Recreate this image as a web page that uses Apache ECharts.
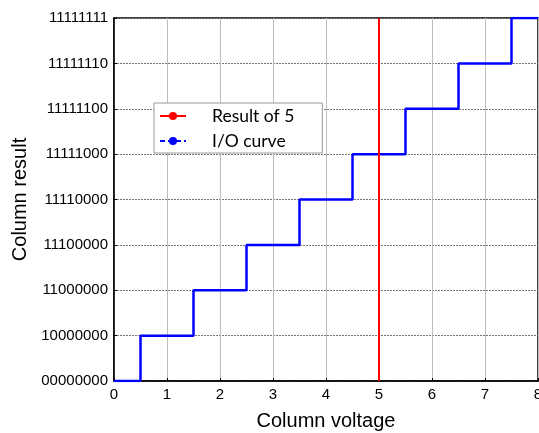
<!DOCTYPE html>
<html><head><meta charset="utf-8">
<script src="https://cdn.jsdelivr.net/npm/echarts@6/dist/echarts.min.js"></script>
<style>html,body{margin:0;padding:0;background:#fff;overflow:hidden}#c{width:539px;height:433px}</style>
</head><body><div id="c"></div>
<script>
const xTicks = [0,1,2,3,4,5,6,7,8];
const yLabels = ['00000000','10000000','11000000','11100000','11110000','11111000','11111100','11111110','11111111'];
const ioX = [0,0.5,1.5,2.5,3.5,4.5,5.5,6.5,7.5,8];
const ioLevel = [0,1,2,3,4,5,6,7,8,8];
const resultX = [5,5];
const resultLevel = [0,8];

const chart = echarts.init(document.getElementById('c'));
chart.setOption({
  animation:false,
  grid:{left:114, top:18, right:1, bottom:52, outerBoundsMode:'none', containLabel:false,
    show:true, borderColor:'#000', borderWidth:1.5, backgroundColor:'#fff'},
  legend:{
    left:154, top:103, orient:'vertical', backgroundColor:'#fff', borderColor:'#999', borderWidth:1,
    padding:[3,28,2,5], itemGap:5, itemWidth:26, itemHeight:10,
    textStyle:{fontFamily:'Lato, "Open Sans", sans-serif', fontSize:17.5, lineHeight:20, color:'#000', padding:[0,0,0,21]},
    data:[
      {name:'Result of 5'},
      {name:'I/O curve', lineStyle:{type:[5,3]}}
    ]
  },
  xAxis:{
    type:'value', min:0, max:8, interval:1,
    name:'Column voltage', nameLocation:'middle', nameGap:30,
    nameTextStyle:{fontFamily:'"Liberation Sans", Arial', fontSize:20, color:'#000'},
    axisLine:{lineStyle:{color:'#000', width:1.5}},
    axisTick:{inside:true, length:3, lineStyle:{color:'#000'}},
    axisLabel:{fontFamily:'"Liberation Sans", Arial', fontSize:15, color:'#000', margin:6,
      formatter:v=>String(xTicks[v])},
    splitLine:{show:true, lineStyle:{color:'#bdbdbd', width:1}}
  },
  yAxis:{
    type:'value', min:0, max:8, interval:1,
    name:'Column result', nameLocation:'middle', nameGap:79, nameRotate:90,
    nameTextStyle:{fontFamily:'"Liberation Sans", Arial', fontSize:20, color:'#000'},
    axisLine:{show:true, lineStyle:{color:'#000', width:1.5}},
    axisTick:{inside:true, length:3, lineStyle:{color:'#000'}},
    axisLabel:{fontFamily:'"Liberation Sans", Arial', fontSize:15, color:'#000', margin:6,
      formatter:v=>yLabels[v]},
    splitLine:{show:true, lineStyle:{color:'#777', width:1, type:[2,1]}}
  },
  series:[
    {name:'Result of 5', type:'line', symbol:'circle', symbolSize:8, showSymbol:false,
     itemStyle:{color:'#ff0000'}, lineStyle:{color:'#ff0000', width:2},
     data:resultX.map((x,i)=>[x,resultLevel[i]]), z:3},
    {name:'I/O curve', type:'line', step:'end', symbol:'circle', symbolSize:8, showSymbol:false,
     itemStyle:{color:'#0000ff'}, lineStyle:{color:'#0000ff', width:2.5, type:'solid'},
     data:ioX.map((x,i)=>[x,ioLevel[i]]), z:2}
  ]
});
</script></body></html>
